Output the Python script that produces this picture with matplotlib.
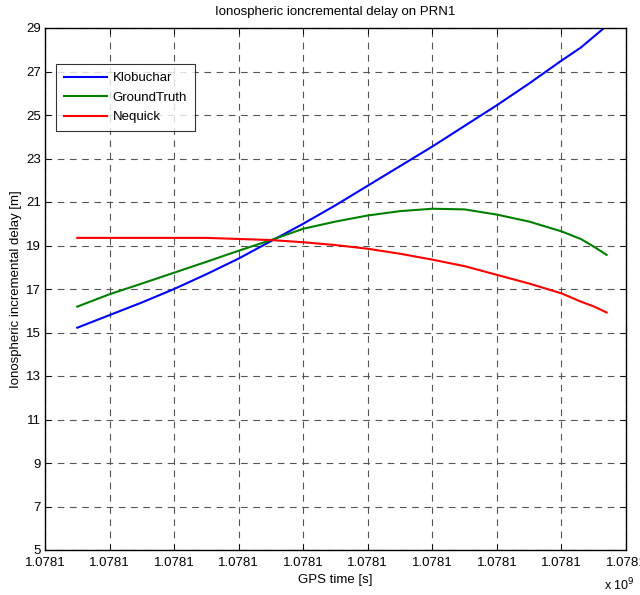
import matplotlib
matplotlib.use("Agg")
import matplotlib.pyplot as plt
import matplotlib.ticker as ticker
import numpy as np

plt.rcParams['font.family'] = ['Liberation Sans', 'DejaVu Sans']

# GPS time of each sample [s]
gps_time = [1078101000, 1078102000, 1078103000, 1078104000, 1078105000,
            1078106000, 1078107000, 1078108000, 1078109000, 1078110000,
            1078111000, 1078112000, 1078113000, 1078114000, 1078115000,
            1078116000, 1078116600, 1078117000, 1078117400]

klobuchar = [15.22, 15.80, 16.38, 17.00, 17.68, 18.40, 19.20, 20.00, 20.85,
             21.75, 22.65, 23.55, 24.50, 25.45, 26.45, 27.50, 28.10, 28.60, 29.10]
ground_truth = [16.19, 16.76, 17.25, 17.75, 18.25, 18.76, 19.25, 19.77, 20.10,
                20.38, 20.58, 20.69, 20.66, 20.42, 20.10, 19.65, 19.30, 18.95, 18.57]
nequick = [19.35, 19.35, 19.35, 19.35, 19.35, 19.30, 19.25, 19.15, 19.02,
           18.85, 18.62, 18.35, 18.05, 17.65, 17.25, 16.80, 16.42, 16.20, 15.92]

x_ticks = [1078100000 + 2000 * k for k in range(10)]
y_ticks = list(range(5, 30, 2))

fig = plt.figure(figsize=(6.4, 5.95), dpi=100)
ax = fig.add_axes([45 / 640, 45 / 595, 581 / 640, 522 / 595])

ax.plot(gps_time, klobuchar, color='#0000ff', lw=1.5, label='Klobuchar')
ax.plot(gps_time, ground_truth, color='#008000', lw=1.5, label='GroundTruth')
ax.plot(gps_time, nequick, color='#ff0000', lw=1.5, label='Nequick')

ax.set_xlim(x_ticks[0], x_ticks[-1])
ax.set_ylim(5, 29)
ax.xaxis.set_major_locator(ticker.FixedLocator(x_ticks))
ax.xaxis.set_major_formatter(ticker.FuncFormatter(lambda v, p: f'{v / 1e9:.4f}'))
ax.set_yticks(y_ticks)

ax.tick_params(direction='in', top=True, right=True, length=4, width=0.6,
               labelsize=9.5)
ax.tick_params(axis='x', pad=5)
ax.tick_params(axis='y', pad=3)
ax.grid(True, color='#555555', ls=(0, (6, 5)), lw=0.8)
for s in ax.spines.values():
    s.set_linewidth(1.0)

ax.set_title('Ionospheric ioncremental delay on PRN1', fontsize=9.5, pad=9)
ax.set_xlabel('GPS time [s]', fontsize=9.5, labelpad=4)
ax.set_ylabel('Ionospheric incremental delay [m]', fontsize=9.5, labelpad=3)
fig.text(604 / 640, 5 / 595, r'x 10$^9$', fontsize=9)

leg = ax.legend(loc='upper left', bbox_to_anchor=(0.019, 0.931), borderaxespad=0,
                fancybox=False, edgecolor='black', fontsize=9.5, handlelength=3.3,
                handletextpad=0.4, labelspacing=0.55, borderpad=0.6)
leg.get_frame().set_linewidth(0.8)

fig.savefig('out.png', dpi=100)
